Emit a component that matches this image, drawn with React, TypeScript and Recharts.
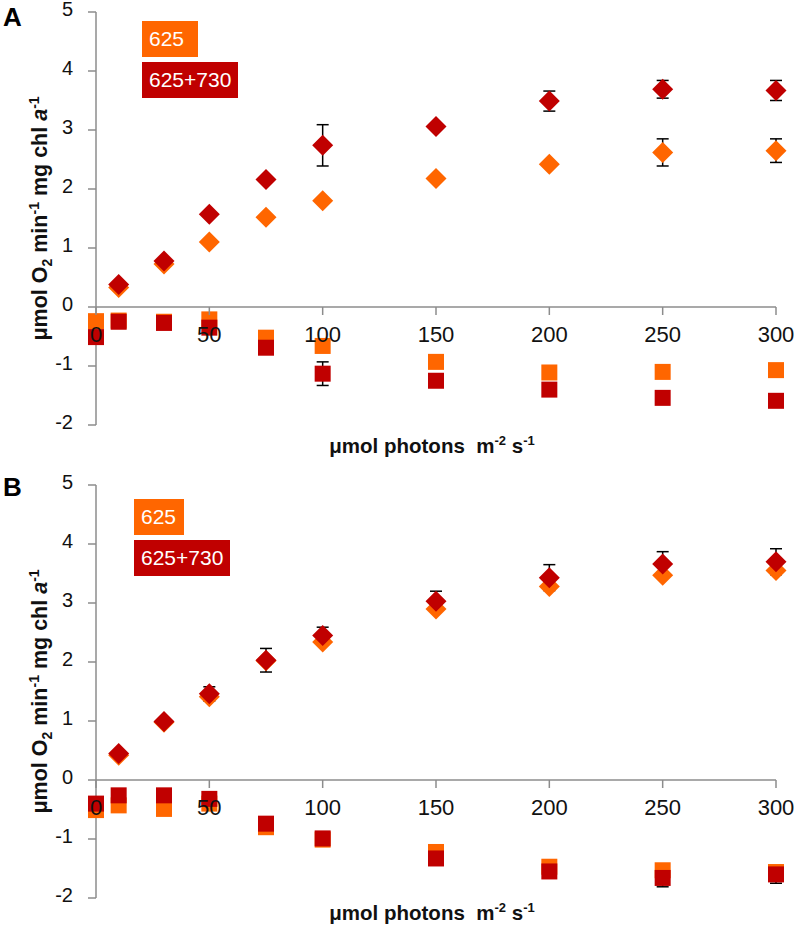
import React from 'react';
import { ScatterChart, Scatter, XAxis, YAxis, ErrorBar, ReferenceLine, Legend } from 'recharts';

// ---------- data ----------
const LIGHT_DIAMOND = [10, 30, 50, 75, 100, 150, 200, 250, 300];
const LIGHT_SQUARE = [0, 10, 30, 50, 75, 100, 150, 200, 250, 300];
const X_TICKS = [0, 50, 100, 150, 200, 250, 300];
const Y_TICKS = [-2, -1, 0, 1, 2, 3, 4, 5];
const SERIES_NAMES = ['625', '625+730'];

// Panel A
const A_625_O2 = [0.33, 0.73, 1.1, 1.52, 1.8, 2.18, 2.42, 2.62, 2.65];
const A_625_O2_ERR = [0, 0, 0.05, 0, 0, 0.05, 0, 0.23, 0.2];
const A_730_O2 = [0.38, 0.78, 1.57, 2.16, 2.74, 3.06, 3.49, 3.69, 3.67];
const A_730_O2_ERR = [0, 0, 0, 0, 0.35, 0, 0.17, 0.15, 0.17];
const A_625_RESP = [-0.24, -0.23, -0.25, -0.21, -0.52, -0.66, -0.93, -1.11, -1.1, -1.07];
const A_625_RESP_ERR = [0, 0, 0, 0, 0, 0, 0, 0, 0, 0];
const A_730_RESP = [-0.51, -0.25, -0.27, -0.35, -0.69, -1.13, -1.25, -1.4, -1.54, -1.59];
const A_730_RESP_ERR = [0, 0, 0, 0, 0, 0.2, 0, 0, 0, 0];

// Panel B
const B_625_O2 = [0.42, 0.98, 1.41, 2.02, 2.34, 2.9, 3.28, 3.47, 3.55];
const B_625_O2_ERR = [0, 0, 0, 0, 0, 0, 0, 0.05, 0];
const B_730_O2 = [0.45, 0.99, 1.46, 2.03, 2.45, 3.03, 3.43, 3.66, 3.7];
const B_730_O2_ERR = [0, 0, 0.12, 0.2, 0.14, 0.17, 0.22, 0.21, 0.22];
const B_625_RESP = [-0.51, -0.43, -0.49, -0.4, -0.8, -1.01, -1.22, -1.47, -1.53, -1.56];
const B_625_RESP_ERR = [0, 0, 0, 0, 0, 0, 0, 0, 0, 0];
const B_730_RESP = [-0.4, -0.26, -0.26, -0.32, -0.74, -0.99, -1.33, -1.55, -1.66, -1.6];
const B_730_RESP_ERR = [0, 0, 0, 0, 0, 0, 0, 0, 0.15, 0.15];

// ---------- style ----------
const ORANGE = '#FF6600';
const RED = '#C00000';
const AXIS = '#8C8C8C';
const FONT = '"Liberation Sans", Arial, sans-serif';
const Y_MIN = -2;
const Y_MAX = 5;
const WIDTH = 796;

const mk = (xs: number[], ys: number[], es: number[]) =>
  xs.map((x, i) => ({ x, y: ys[i], e: es[i] }));

const Diamond = (props: any) => {
  const { cx, cy, fill } = props;
  const r = 10.5;
  return (
    <polygon
      points={`${cx},${cy - r} ${cx + r},${cy} ${cx},${cy + r} ${cx - r},${cy}`}
      fill={fill}
    />
  );
};

const Square = (props: any) => {
  const { cx, cy, fill } = props;
  const h = 8;
  return <rect x={cx - h} y={cy - h} width={2 * h} height={2 * h} fill={fill} />;
};

const YTitle = (props: any) => {
  const vb = props.viewBox || { x: 0, y: 0, width: 96, height: 400 };
  const cx = vb.x + 47;
  const cy = vb.y + vb.height / 2;
  return (
    <text
      x={cx}
      y={cy}
      transform={`rotate(-90, ${cx}, ${cy})`}
      textAnchor="middle"
      fontFamily={FONT}
      fontWeight="bold"
      fontSize={21.5}
      fill="#111"
    >
      μmol O<tspan fontSize={14} dy={5}>2</tspan>
      <tspan dy={-5}> min</tspan>
      <tspan fontSize={14} dy={-8}>-1</tspan>
      <tspan dy={8}> mg chl </tspan>
      <tspan fontStyle="italic">a</tspan>
      <tspan fontSize={14} dy={-8}>-1</tspan>
    </text>
  );
};

const makeXTitle = (baseline: number) => (props: any) => {
  const vb = props.viewBox || { x: 96, y: 400, width: 680, height: 40 };
  const cx = vb.x + vb.width / 2 - 4;
  const y = vb.y + baseline;
  return (
    <text x={cx} y={y} textAnchor="middle" fontFamily={FONT} fontWeight="bold" fontSize={20.5} fill="#111">
      {'μmol photons\u00A0 m'}
      <tspan fontSize={13} dy={-8}>-2</tspan>
      <tspan dy={8}>{'\u00A0s'}</tspan>
      <tspan fontSize={13} dy={-8}>-1</tspan>
    </text>
  );
};

const makeXTick = (zeroY: number) => (props: any) => {
  const { x, payload } = props;
  return (
    <g>
      <line x1={x} x2={x} y1={zeroY} y2={zeroY + 8} stroke={AXIS} strokeWidth={1.5} />
      <text x={x} y={zeroY + 35} textAnchor="middle" fontFamily={FONT} fontSize={22} fill="#111">
        {payload.value}
      </text>
    </g>
  );
};

const YTick = (props: any) => {
  const { x, y, payload } = props;
  return (
    <text x={x} y={y} dy={3.5} textAnchor="end" fontFamily={FONT} fontSize={20} fill="#111">
      {payload.value}
    </text>
  );
};

const makeLegend = (widths: number[]) => (props: any) => {
  const payload = (props.payload || []) as any[];
  const colors = [ORANGE, RED];
  return (
    <div style={{ fontFamily: FONT }}>
      {SERIES_NAMES.map((name, i) => {
        const entry = payload.find((p) => p.value === name);
        return (
          <div
            key={name}
            style={{
              background: (entry && entry.color) || colors[i],
              color: '#fff',
              fontSize: 21,
              height: 36,
              lineHeight: '36px',
              width: widths[i],
              paddingLeft: 7,
              boxSizing: 'border-box',
              marginBottom: 5,
              textAlign: 'left',
            }}
          >
            {name}
          </div>
        );
      })}
    </div>
  );
};

type PanelProps = {
  letter: string;
  top: number;
  height: number;
  marginTop: number;
  xAxisHeight: number;
  titleBaseline: number;
  legendLeft: number;
  legendTop: number;
  legendWidths: number[];
  o625: number[];
  o625e: number[];
  o730: number[];
  o730e: number[];
  r625: number[];
  r625e: number[];
  r730: number[];
  r730e: number[];
};

const Panel = (p: PanelProps) => {
  const plotH = p.height - p.marginTop - p.xAxisHeight;
  const zeroY = p.marginTop + (plotH * (Y_MAX - 0)) / (Y_MAX - Y_MIN);
  return (
    <div style={{ position: 'absolute', left: 0, top: p.top, width: WIDTH, height: p.height }}>
      <ScatterChart
        width={WIDTH}
        height={p.height}
        margin={{ top: p.marginTop, right: 20, bottom: 0, left: 0 }}
      >
        <YAxis
          type="number"
          dataKey="y"
          domain={[Y_MIN, Y_MAX]}
          ticks={Y_TICKS}
          interval={0}
          width={96}
          tickSize={8}
          tickMargin={15}
          axisLine={{ stroke: AXIS, strokeWidth: 1.5 }}
          tickLine={{ stroke: AXIS, strokeWidth: 1.5 }}
          tick={YTick}
          label={YTitle}
        />
        <ReferenceLine y={0} stroke={AXIS} strokeWidth={1.5} />
        <Scatter
          name={SERIES_NAMES[0]}
          data={mk(LIGHT_DIAMOND, p.o625, p.o625e)}
          fill={ORANGE}
          shape={Diamond}
          isAnimationActive={false}
        >
          <ErrorBar dataKey="e" direction="y" width={6} stroke="#000" strokeWidth={1.5} />
        </Scatter>
        <Scatter
          name="625 dark"
          legendType="none"
          data={mk(LIGHT_SQUARE, p.r625, p.r625e)}
          fill={ORANGE}
          shape={Square}
          isAnimationActive={false}
        >
          <ErrorBar dataKey="e" direction="y" width={6} stroke="#000" strokeWidth={1.5} />
        </Scatter>
        <Scatter
          name={SERIES_NAMES[1]}
          data={mk(LIGHT_DIAMOND, p.o730, p.o730e)}
          fill={RED}
          shape={Diamond}
          isAnimationActive={false}
        >
          <ErrorBar dataKey="e" direction="y" width={6} stroke="#000" strokeWidth={1.5} />
        </Scatter>
        <Scatter
          name="625+730 dark"
          legendType="none"
          data={mk(LIGHT_SQUARE, p.r730, p.r730e)}
          fill={RED}
          shape={Square}
          isAnimationActive={false}
        >
          <ErrorBar dataKey="e" direction="y" width={6} stroke="#000" strokeWidth={1.5} />
        </Scatter>
        <XAxis
          type="number"
          dataKey="x"
          domain={[0, 300]}
          ticks={X_TICKS}
          interval={0}
          height={p.xAxisHeight}
          axisLine={false}
          tickLine={false}
          tick={makeXTick(zeroY)}
          label={makeXTitle(p.titleBaseline)}
        />
        <Legend
          layout="horizontal"
          verticalAlign="middle"
          align="center"
          content={makeLegend(p.legendWidths)}
          wrapperStyle={{ left: p.legendLeft, top: p.legendTop, width: 'auto', height: 'auto' }}
        />
      </ScatterChart>
      <div
        style={{
          position: 'absolute',
          left: 3,
          top: 2,
          fontFamily: FONT,
          fontWeight: 'bold',
          fontSize: 26,
          lineHeight: '30px',
          color: '#000',
        }}
      >
        {p.letter}
      </div>
    </div>
  );
};

export default function App() {
  return (
    <div style={{ position: 'absolute', left: 0, top: 0, width: WIDTH, height: 931, background: '#fff' }}>
      <Panel
        letter="A"
        top={0}
        height={470}
        marginTop={12}
        xAxisHeight={45}
        titleBaseline={28}
        legendLeft={142}
        legendTop={21}
        legendWidths={[56, 96]}
        o625={A_625_O2}
        o625e={A_625_O2_ERR}
        o730={A_730_O2}
        o730e={A_730_O2_ERR}
        r625={A_625_RESP}
        r625e={A_625_RESP_ERR}
        r730={A_730_RESP}
        r730e={A_730_RESP_ERR}
      />
      <Panel
        letter="B"
        top={470}
        height={461}
        marginTop={15}
        xAxisHeight={33}
        titleBaseline={22}
        legendLeft={134}
        legendTop={29}
        legendWidths={[50, 96]}
        o625={B_625_O2}
        o625e={B_625_O2_ERR}
        o730={B_730_O2}
        o730e={B_730_O2_ERR}
        r625={B_625_RESP}
        r625e={B_625_RESP_ERR}
        r730={B_730_RESP}
        r730e={B_730_RESP_ERR}
      />
    </div>
  );
}
